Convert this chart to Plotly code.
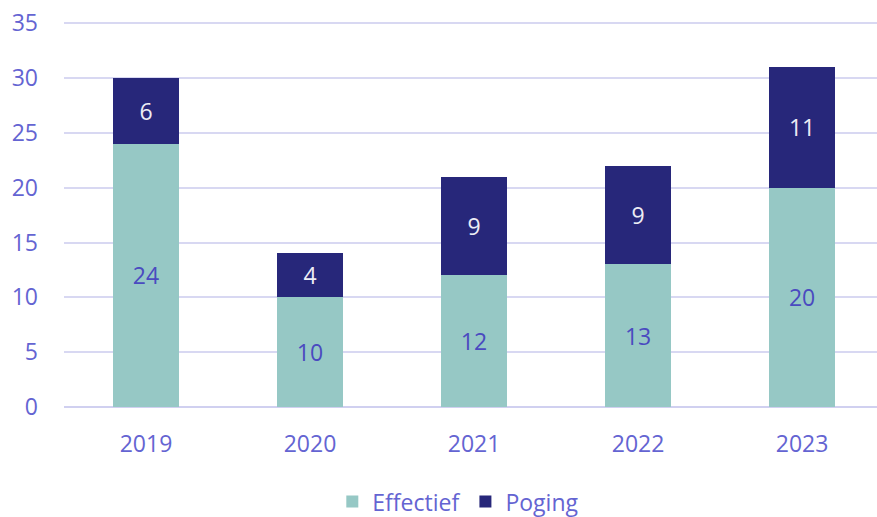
import plotly.graph_objects as go

years = ["2019", "2020", "2021", "2022", "2023"]
effectief = [24, 10, 12, 13, 20]
poging = [6, 4, 9, 9, 11]
y_ticks = [0, 5, 10, 15, 20, 25, 30, 35]

FONT = "Open Sans"
LABEL_BLUE = "#6464D2"
FS = 23

fig = go.Figure()
fig.add_trace(go.Bar(
    x=years, y=effectief, name="Effectief",
    marker=dict(color="#96C8C5", line=dict(width=0)),
    text=[str(v) for v in effectief], textposition="inside",
    insidetextanchor="middle", textangle=0,
    textfont=dict(family=FONT, size=FS, color="#4A4AC0"),
    width=0.4,
))
fig.add_trace(go.Bar(
    x=years, y=poging, name="Poging",
    marker=dict(color="#27277A", line=dict(width=0)),
    text=[str(v) for v in poging], textposition="inside",
    insidetextanchor="middle", textangle=0,
    textfont=dict(family=FONT, size=FS, color="#EDEDF5"),
    width=0.4,
))

fig.update_layout(
    barmode="stack",
    width=877, height=517,
    margin=dict(l=64, r=0, t=21, b=110, autoexpand=False),
    paper_bgcolor="white", plot_bgcolor="white",
    font=dict(family=FONT, size=FS, color=LABEL_BLUE),
    uniformtext=dict(minsize=FS, mode="show"),
    legend=dict(orientation="h", x=0.485, xanchor="center", y=-0.245, yanchor="middle",
                font=dict(family=FONT, size=FS, color=LABEL_BLUE), itemwidth=30,
                traceorder="normal"),
    showlegend=True,
)
fig.update_xaxes(
    range=[-0.5, 4.457], showgrid=False, showline=False, zeroline=False,
    tickfont=dict(family=FONT, size=FS, color=LABEL_BLUE), ticks="",
    ticklabelstandoff=21, automargin=False,
)
fig.update_yaxes(
    range=[0, 35.2], tickvals=y_ticks, showgrid=True, gridcolor="#D8D8F2", gridwidth=2,
    zeroline=True, zerolinecolor="#D0D0F0", zerolinewidth=2, showline=False,
    tickfont=dict(family=FONT, size=FS, color=LABEL_BLUE), ticks="",
    ticklabelstandoff=25, automargin=False, ticklabeloverflow="allow",
)

fig.write_html("out.html", config={"displayModeBar": False},
               post_script="document.body.style.margin='0';")
